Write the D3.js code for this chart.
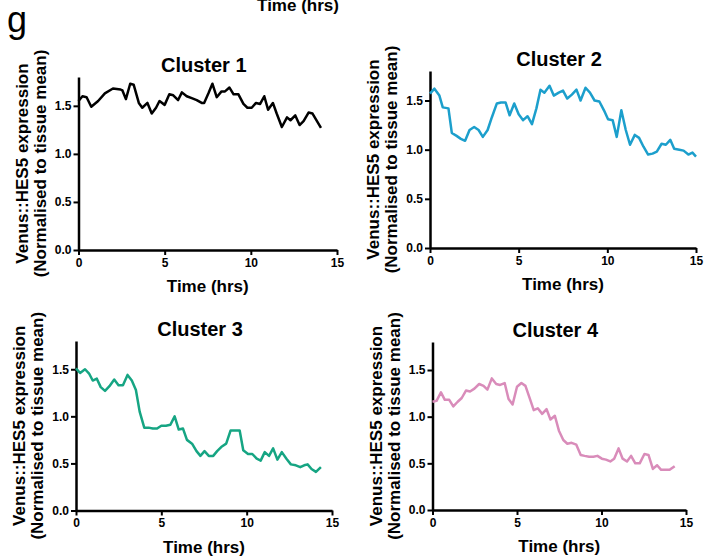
<!DOCTYPE html>
<html>
<head>
<meta charset="utf-8">
<script src="https://cdn.jsdelivr.net/npm/d3@7"></script>
<style>
  body { margin: 0; background: #fff; }
  svg { display: block; font-family: "Liberation Sans", Arial, sans-serif; }
  .axis path, .axis line { stroke: #000; }
  .axis path { stroke-width: 2.5px; }
  .axis line { stroke-width: 2px; }
  .axis text { font-size: 12px; font-weight: bold; fill: #000; }
  .title { font-size: 20px; font-weight: bold; }
  .label { font-size: 17px; font-weight: bold; }
</style>
</head>
<body>
<div class="container"></div>
<script>
(function(){

// values (time in hrs, expression normalised to tissue mean)
var c1Time = [0, 0.23, 0.47, 0.74, 1.14, 1.53, 2.0, 2.44, 2.55, 2.75, 3.0, 3.2, 3.5, 3.7, 4.0, 4.25, 4.5, 4.7, 5.0, 5.27, 5.5, 5.78, 6.0, 6.28, 6.57, 6.86, 7.15, 7.29, 7.54, 7.77, 8.02, 8.3, 8.5, 8.76, 9.0, 9.28, 9.57, 9.8, 10.05, 10.3, 10.54, 10.78, 11.0, 11.28, 11.5, 11.8, 12.1, 12.3, 12.58, 12.83, 13.06, 13.35, 13.58, 14.07];
var c1Value = [1.55, 1.6, 1.59, 1.49, 1.55, 1.63, 1.68, 1.67, 1.66, 1.57, 1.73, 1.72, 1.53, 1.48, 1.53, 1.42, 1.48, 1.55, 1.51, 1.62, 1.61, 1.56, 1.64, 1.6, 1.58, 1.56, 1.53, 1.53, 1.63, 1.73, 1.59, 1.65, 1.65, 1.69, 1.62, 1.62, 1.52, 1.48, 1.48, 1.53, 1.52, 1.6, 1.46, 1.53, 1.42, 1.28, 1.38, 1.35, 1.4, 1.3, 1.34, 1.43, 1.42, 1.27];

var c2Time = [0, 0.25, 0.53, 0.72, 1.04, 1.23, 1.5, 1.74, 1.98, 2.23, 2.49, 2.74, 2.98, 3.25, 3.49, 3.77, 4.0, 4.26, 4.49, 4.75, 5.0, 5.25, 5.5, 5.75, 6.0, 6.23, 6.45, 6.74, 6.98, 7.26, 7.5, 7.74, 8.0, 8.26, 8.49, 8.77, 9.02, 9.28, 9.55, 9.81, 10.04, 10.3, 10.53, 10.79, 11.04, 11.28, 11.55, 11.79, 12.04, 12.3, 12.55, 12.79, 13.06, 13.3, 13.55, 13.77, 14.06, 14.3, 14.57, 14.8, 15.0];
var c2Value = [1.57, 1.62, 1.55, 1.43, 1.42, 1.17, 1.14, 1.11, 1.09, 1.2, 1.23, 1.2, 1.13, 1.2, 1.33, 1.47, 1.48, 1.48, 1.35, 1.47, 1.36, 1.3, 1.34, 1.26, 1.42, 1.61, 1.58, 1.65, 1.55, 1.58, 1.6, 1.52, 1.56, 1.61, 1.5, 1.63, 1.58, 1.5, 1.49, 1.4, 1.31, 1.3, 1.13, 1.4, 1.2, 1.05, 1.15, 1.12, 1.03, 0.95, 0.96, 0.98, 1.06, 1.05, 1.1, 1.01, 1.0, 0.99, 0.95, 0.97, 0.93];

var c3Time = [0, 0.24, 0.53, 0.78, 0.98, 1.22, 1.45, 1.7, 1.96, 2.24, 2.49, 2.75, 3.02, 3.27, 3.51, 3.73, 4.0, 4.25, 4.5, 4.75, 5.0, 5.27, 5.53, 5.78, 6.02, 6.27, 6.5, 6.8, 7.06, 7.29, 7.53, 7.78, 8.04, 8.27, 8.55, 8.8, 9.06, 9.29, 9.59, 9.8, 10.08, 10.33, 10.59, 10.82, 11.06, 11.31, 11.55, 11.8, 12.06, 12.33, 12.59, 12.88, 13.14, 13.37, 13.57, 13.8, 14.06, 14.35];
var c3Value = [1.51, 1.46, 1.5, 1.45, 1.38, 1.4, 1.31, 1.27, 1.32, 1.39, 1.33, 1.33, 1.44, 1.38, 1.28, 1.05, 0.88, 0.88, 0.87, 0.87, 0.9, 0.9, 0.91, 1.0, 0.86, 0.87, 0.75, 0.71, 0.63, 0.58, 0.63, 0.58, 0.58, 0.63, 0.68, 0.71, 0.85, 0.85, 0.85, 0.64, 0.6, 0.6, 0.55, 0.53, 0.62, 0.58, 0.66, 0.54, 0.62, 0.55, 0.49, 0.48, 0.46, 0.48, 0.49, 0.44, 0.41, 0.46];

var c4Time = [0, 0.24, 0.5, 0.73, 0.99, 1.23, 1.49, 1.73, 1.98, 2.22, 2.48, 2.76, 3.02, 3.25, 3.51, 3.77, 4.0, 4.27, 4.5, 4.74, 5.0, 5.26, 5.5, 5.73, 5.99, 6.23, 6.49, 6.75, 6.98, 7.24, 7.48, 7.74, 7.98, 8.23, 8.51, 8.77, 9.0, 9.27, 9.52, 9.76, 10.02, 10.26, 10.52, 10.75, 11.01, 11.25, 11.51, 11.75, 12.0, 12.26, 12.54, 12.78, 13.04, 13.29, 13.53, 13.77, 14.03, 14.33];
var c4Value = [1.16, 1.17, 1.26, 1.18, 1.18, 1.11, 1.16, 1.2, 1.28, 1.27, 1.3, 1.35, 1.33, 1.29, 1.41, 1.35, 1.34, 1.36, 1.19, 1.13, 1.32, 1.36, 1.33, 1.21, 1.07, 1.09, 1.03, 1.08, 0.97, 1.01, 0.85, 0.75, 0.71, 0.72, 0.7, 0.59, 0.58, 0.57, 0.57, 0.58, 0.55, 0.54, 0.52, 0.55, 0.66, 0.55, 0.52, 0.58, 0.5, 0.5, 0.6, 0.59, 0.44, 0.48, 0.43, 0.43, 0.43, 0.47];

var titles = ["Cluster 1", "Cluster 2", "Cluster 3", "Cluster 4"];
var xTicks = [0, 5, 10, 15];
var yTicks = [0, 0.5, 1.0, 1.5];

var width = 704,
    height = 557;

// plot boxes: left, right, bottom, top in px
var panels = [
  {time: c1Time, value: c1Value, color: "#000000", x0: 78.5, x1: 337, y0: 250, y1: 77},
  {time: c2Time, value: c2Value, color: "#1c9fcc", x0: 430, x1: 696, y0: 248, y1: 71},
  {time: c3Time, value: c3Value, color: "#16a583", x0: 76, x1: 332, y0: 510.5, y1: 341},
  {time: c4Time, value: c4Value, color: "#d98cba", x0: 432.5, x1: 686, y0: 510, y1: 342}
];

var svg = d3.select(".container")
  .append("svg")
  .attr("width", width)
  .attr("height", height);

// panel letter and cut-off axis title from the panel above
svg.append("text")
  .attr("x", 7)
  .attr("y", 32)
  .style("font-size", "36px")
  .text("g");

svg.append("text")
  .attr("class", "label")
  .attr("x", 298)
  .attr("y", 11)
  .attr("text-anchor", "middle")
  .text("Time (hrs)");

panels.forEach(function(p, i){
  drawPanel(p, titles[i]);
});

function drawPanel(p, title){

  var x = d3.scaleLinear()
    .domain([0, 15])
    .range([p.x0, p.x1]);

  var y = d3.scaleLinear()
    .domain([0, 1.8])
    .range([p.y0, p.y1]);

  var g = svg.append("g");

  var xAxis = d3.axisBottom(x)
    .tickValues(xTicks)
    .tickSize(5)
    .tickSizeOuter(0)
    .tickPadding(3)
    .tickFormat(d3.format("d"));

  var yAxis = d3.axisLeft(y)
    .tickValues(yTicks)
    .tickSize(5)
    .tickSizeOuter(0)
    .tickPadding(2)
    .tickFormat(d3.format(".1f"));

  g.append("g")
    .attr("class", "axis")
    .attr("transform", "translate(0," + p.y0 + ")")
    .call(xAxis);

  g.append("g")
    .attr("class", "axis")
    .attr("transform", "translate(" + p.x0 + ",0)")
    .call(yAxis);

  var line = d3.line()
    .x(function(d){ return x(d[0]); })
    .y(function(d){ return y(d[1]); });

  g.append("path")
    .datum(d3.zip(p.time, p.value))
    .attr("fill", "none")
    .attr("stroke", p.color)
    .attr("stroke-width", 2.5)
    .attr("stroke-linejoin", "round")
    .attr("d", line);

  var cx = (p.x0 + p.x1) / 2;

  g.append("text")
    .attr("class", "title")
    .attr("x", cx - 4)
    .attr("y", p.y1 - 5)
    .attr("text-anchor", "middle")
    .text(title);

  g.append("text")
    .attr("class", "label")
    .attr("x", cx)
    .attr("y", p.y0 + 42)
    .attr("text-anchor", "middle")
    .text("Time (hrs)");

  var cy = (p.y0 + p.y1) / 2;

  g.append("text")
    .attr("class", "label")
    .attr("transform", "translate(" + (p.x0 - 51) + "," + cy + ") rotate(-90)")
    .attr("text-anchor", "middle")
    .text("Venus::HES5 expression");

  g.append("text")
    .attr("class", "label")
    .attr("transform", "translate(" + (p.x0 - 33) + "," + cy + ") rotate(-90)")
    .attr("text-anchor", "middle")
    .text("(Normalised to tissue mean)");
};

})();
</script>
</body>
</html>
